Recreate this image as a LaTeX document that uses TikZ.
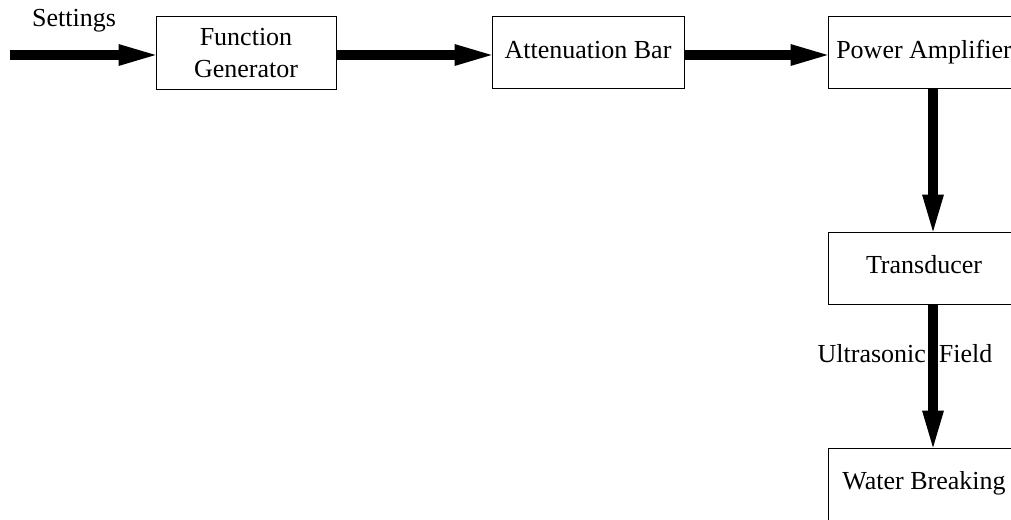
\documentclass[tikz,border=0pt]{standalone}
\usepackage{fontspec}
\setmainfont{Liberation Serif}
\usetikzlibrary{arrows.meta}
\begin{document}
\begin{tikzpicture}[x=0.5pt,y=-0.5pt,
  boxbase/.style={draw,line width=0.5pt,minimum width=96pt,minimum height=36pt,inner sep=0pt,font=\fontsize{13}{16}\selectfont},
  box/.style={boxbase,text height=0.68em,text depth=0.1em},
  lbl/.style={inner sep=0pt,anchor=base,font=\fontsize{13}{16}\selectfont},
  flow/.style={line width=5pt,-{Triangle[length=18.5pt,width=11pt,line width=0pt]}}]
\useasboundingbox (0,0) rectangle (1011,519);
\clip (0,0) rectangle (1011,519);
\node[boxbase,align=center,minimum width=90pt,minimum height=36.5pt] (fg) at (246,53.5) {Function\\Generator};
\node[box] (ab) at (588,53) {Attenuation Bar};
\node[box] (pa) at (924,53) {Power Amplifier};
\node[box] (tr) at (924,268) {Transducer};
\node[box] (wb) at (924,484) {Water Breaking};
\node[lbl] (set) at (74,27) {Settings};
\node[lbl] (uf) at (905,362) {Ultrasonic\ \ Field};
\coordinate (start) at (10,55);
\draw[flow] (start) -- ([yshift=-0.75pt]fg.west);
\draw[flow] ([yshift=-0.75pt]fg.east) -- ([yshift=-1pt]ab.west);
\draw[flow] ([yshift=-1pt]ab.east) -- ([yshift=-1pt]pa.west);
\draw[flow] ([xshift=4.5pt]pa.south) -- ([xshift=4.5pt]tr.north);
\draw[flow] ([xshift=4.5pt]tr.south) -- ([xshift=4.5pt]wb.north);
\end{tikzpicture}
\end{document}
